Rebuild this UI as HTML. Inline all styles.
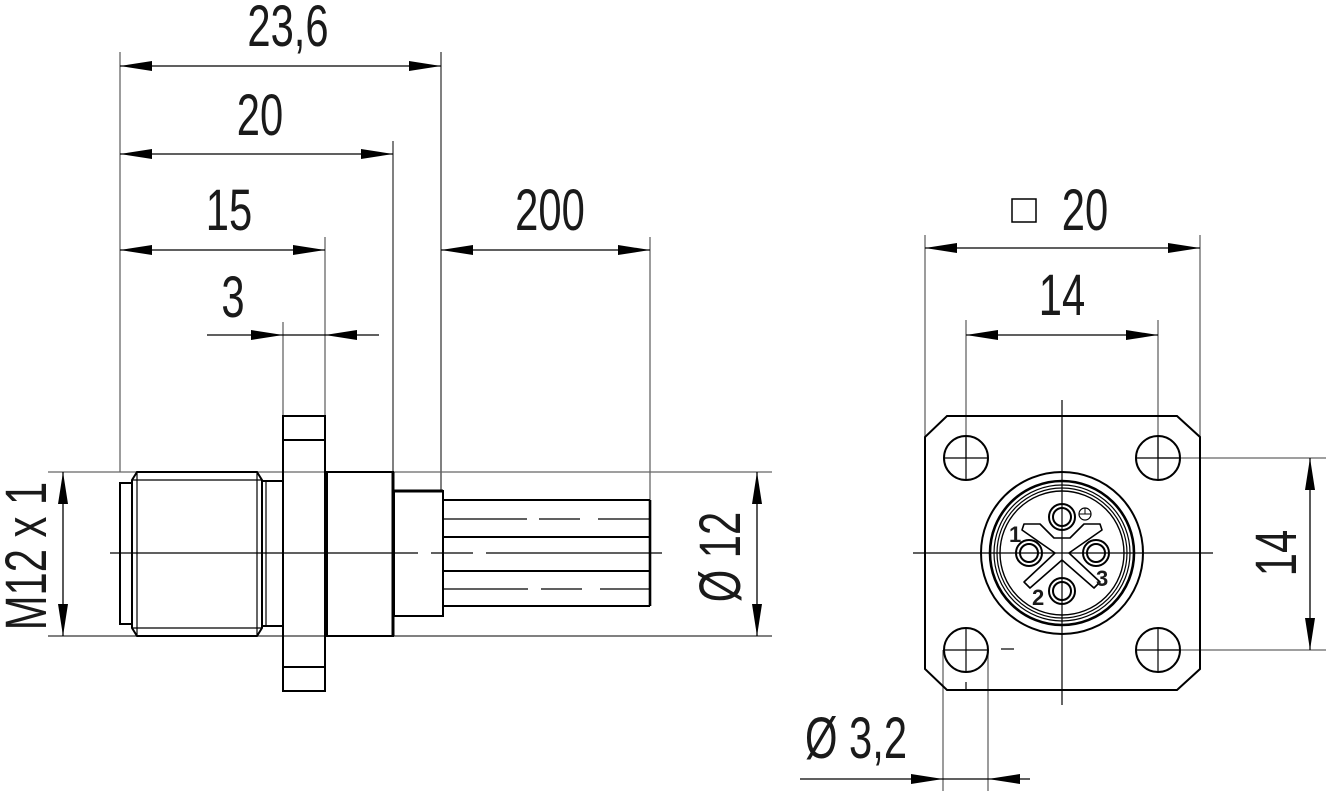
<!DOCTYPE html>
<html><head><meta charset="utf-8"><style>
html,body{margin:0;padding:0;background:#fff}
svg{display:block}
text{font-family:"Liberation Sans",sans-serif;fill:#1a1a1a}
</style></head><body>
<svg width="1326" height="791" viewBox="0 0 1326 791" xmlns="http://www.w3.org/2000/svg">
<defs>
<marker id="a" viewBox="0 0 32 10" refX="32" refY="5" markerWidth="32" markerHeight="10" markerUnits="userSpaceOnUse" orient="auto-start-reverse"><path d="M0,0 L32,5 L0,10 z" fill="#000"/></marker>
</defs>
<g fill="none" stroke="#666" stroke-width="1.3">
<line x1="120" y1="52" x2="120" y2="472"/>
<line x1="441" y1="52" x2="441" y2="491" stroke="#000" stroke-width="1"/>
<line x1="393" y1="141" x2="393" y2="472" stroke="#000" stroke-width="1"/>
<line x1="325" y1="237" x2="325" y2="416"/>
<line x1="283" y1="322" x2="283" y2="416"/>
<line x1="650" y1="237" x2="650" y2="500"/>
<line x1="48" y1="472" x2="772" y2="472"/>
<line x1="48" y1="636" x2="772" y2="636" stroke="#000" stroke-width="1"/>
<line x1="925" y1="235" x2="925" y2="437"/>
<line x1="1200" y1="235" x2="1200" y2="437"/>
<line x1="966" y1="320" x2="966" y2="458"/>
<line x1="1158" y1="320" x2="1158" y2="458"/>
<line x1="1158" y1="458" x2="1326" y2="458"/>
<line x1="1158" y1="650" x2="1326" y2="650"/>
<line x1="943" y1="650" x2="943" y2="791"/>
<line x1="988" y1="650" x2="988" y2="791"/>
</g>
<g stroke="#000" stroke-width="1.3" fill="none">
<line x1="120" y1="66" x2="441" y2="66" marker-start="url(#a)" marker-end="url(#a)"/>
<line x1="120" y1="154" x2="393" y2="154" marker-start="url(#a)" marker-end="url(#a)"/>
<line x1="120" y1="250" x2="325" y2="250" marker-start="url(#a)" marker-end="url(#a)"/>
<line x1="441" y1="250" x2="650" y2="250" marker-start="url(#a)" marker-end="url(#a)"/>
<line x1="207" y1="335" x2="283" y2="335" marker-end="url(#a)"/>
<line x1="379" y1="335" x2="325" y2="335" marker-end="url(#a)"/>
<line x1="283" y1="335" x2="325" y2="335"/>
<line x1="63" y1="472" x2="63" y2="636" marker-start="url(#a)" marker-end="url(#a)"/>
<line x1="757" y1="472" x2="757" y2="636" marker-start="url(#a)" marker-end="url(#a)"/>
<line x1="925" y1="248" x2="1200" y2="248" marker-start="url(#a)" marker-end="url(#a)"/>
<line x1="966" y1="335" x2="1158" y2="335" marker-start="url(#a)" marker-end="url(#a)"/>
<line x1="1310" y1="458" x2="1310" y2="650" marker-start="url(#a)" marker-end="url(#a)"/>
<line x1="800" y1="779" x2="943" y2="779" marker-end="url(#a)"/>
<line x1="1030" y1="779" x2="988" y2="779" marker-end="url(#a)"/>
<line x1="943" y1="779" x2="988" y2="779"/>
</g>
<g stroke="#000" stroke-width="1.2">
<line x1="110" y1="553" x2="418" y2="553"/>
<line x1="431" y1="553" x2="473" y2="553"/>
<line x1="486" y1="553" x2="662" y2="553"/>
<line x1="913" y1="553" x2="1213" y2="553"/>
<line x1="1062" y1="400" x2="1062" y2="705"/>
<line x1="1001" y1="649" x2="1014" y2="649"/>
</g>
<g stroke="#000" stroke-width="2" fill="none">
<rect x="120" y="483" width="12" height="141"/>
<path d="M137,472 L257,472 L262,480 L262,628 L257,636 L137,636 L132,628 L132,480 Z"/>
<line x1="137" y1="472" x2="137" y2="636" stroke-width="1.2"/>
<line x1="257" y1="472" x2="257" y2="636" stroke-width="1.2"/>
<line x1="132" y1="480" x2="262" y2="480" stroke-width="1.2"/>
<line x1="132" y1="628" x2="262" y2="628" stroke-width="1.2"/>
<rect x="262" y="481" width="21" height="145"/>
<line x1="266" y1="481" x2="266" y2="626" stroke-width="1.2"/>
<rect x="283" y="416" width="42" height="275"/>
<line x1="283" y1="440" x2="325" y2="440"/>
<line x1="283" y1="667" x2="325" y2="667"/>
<rect x="327" y="472" width="66" height="164"/>
<line x1="393" y1="472" x2="393" y2="636" stroke-width="3"/>
<rect x="394" y="491" width="49" height="125"/>
<line x1="394" y1="491" x2="443" y2="491" stroke-width="3"/>
<line x1="443" y1="500" x2="650" y2="500"/>
<line x1="443" y1="537" x2="650" y2="537"/>
<line x1="443" y1="571" x2="650" y2="571"/>
<line x1="443" y1="606" x2="650" y2="606"/>
<line x1="650" y1="500" x2="650" y2="606" stroke-width="2.6"/>
</g>
<g stroke="#000" stroke-width="1.2">
<line x1="443" y1="519" x2="527" y2="519"/><line x1="539" y1="519" x2="580" y2="519"/><line x1="598" y1="519" x2="650" y2="519"/>
<line x1="443" y1="589" x2="528" y2="589"/><line x1="541" y1="589" x2="582" y2="589"/><line x1="600" y1="589" x2="650" y2="589"/>
</g>
<g stroke="#000" stroke-width="2" fill="none">
<path d="M947,416 L1177,416 L1200,437 L1200,669 L1177,690 L947,690 L925,669 L925,437 Z"/>
<circle cx="966" cy="458" r="22"/><circle cx="1158" cy="458" r="22"/>
<circle cx="966" cy="650" r="22"/><circle cx="1158" cy="650" r="22"/>
<circle cx="1062" cy="553" r="81"/>
<circle cx="1062" cy="553" r="72" stroke-width="2.6"/>
<circle cx="1062" cy="553" r="68" stroke-width="1.2"/>
<circle cx="1062" cy="553" r="65" stroke-width="1.2"/>
<circle cx="1062" cy="553" r="62" stroke-width="1.4"/>
<circle cx="1062" cy="517" r="13"/><circle cx="1062" cy="517" r="9"/>
<circle cx="1029" cy="553" r="13"/><circle cx="1029" cy="553" r="9"/>
<circle cx="1096" cy="553" r="13"/><circle cx="1096" cy="553" r="9"/>
<circle cx="1062" cy="591" r="13"/><circle cx="1062" cy="591" r="9"/>
<path d="M1024,524 L1040,524 L1054,538 L1070,538 L1084,524 L1100,524 L1102,530 L1069,553 L1100,582 L1094,588 L1062,560 L1030,588 L1024,582 L1055,553 L1022,530 Z" stroke-width="1.6" stroke-linejoin="round"/>
<circle cx="1085" cy="514" r="6" stroke-width="1.2"/>
<line x1="1079" y1="514" x2="1091" y2="514" stroke-width="1"/>
<line x1="1085" y1="508" x2="1085" y2="514" stroke-width="1"/>
<rect x="1012" y="199" width="24" height="23" stroke-width="1.5"/>
</g>
<g stroke="#000" stroke-width="1.2">
<line x1="944" y1="458" x2="988" y2="458"/><line x1="966" y1="436" x2="966" y2="480"/>
<line x1="1136" y1="458" x2="1180" y2="458"/><line x1="1158" y1="436" x2="1158" y2="480"/>
<line x1="944" y1="650" x2="988" y2="650"/><line x1="966" y1="628" x2="966" y2="672"/>
<line x1="1136" y1="650" x2="1180" y2="650"/><line x1="1158" y1="628" x2="1158" y2="672"/>
<line x1="966" y1="682" x2="966" y2="690"/>
</g>
<g font-size="22" font-weight="bold">
<text x="1009" y="542">1</text>
<text x="1032" y="605">2</text>
<text x="1096" y="586">3</text>
</g>
<g font-size="58">
<text transform="translate(288,46) scale(0.72,1)" text-anchor="middle">23,6</text>
<text transform="translate(260,135) scale(0.72,1)" text-anchor="middle">20</text>
<text transform="translate(229,230) scale(0.72,1)" text-anchor="middle">15</text>
<text transform="translate(233,317) scale(0.72,1)" text-anchor="middle">3</text>
<text transform="translate(550,230) scale(0.72,1)" text-anchor="middle">200</text>
<text transform="translate(1085,230) scale(0.72,1)" text-anchor="middle">20</text>
<text transform="translate(1062,315) scale(0.72,1)" text-anchor="middle">14</text>
<text transform="translate(856,758) scale(0.72,1)" text-anchor="middle">Ø 3,2</text>
<text transform="translate(1296,553) rotate(-90) scale(0.72,1)" text-anchor="middle">14</text>
<text transform="translate(740,557) rotate(-90) scale(0.72,1)" text-anchor="middle">Ø 12</text>
<text transform="translate(46,556) rotate(-90) scale(0.72,1)" text-anchor="middle">M12 x 1</text>
</g>
</svg>
</body></html>
